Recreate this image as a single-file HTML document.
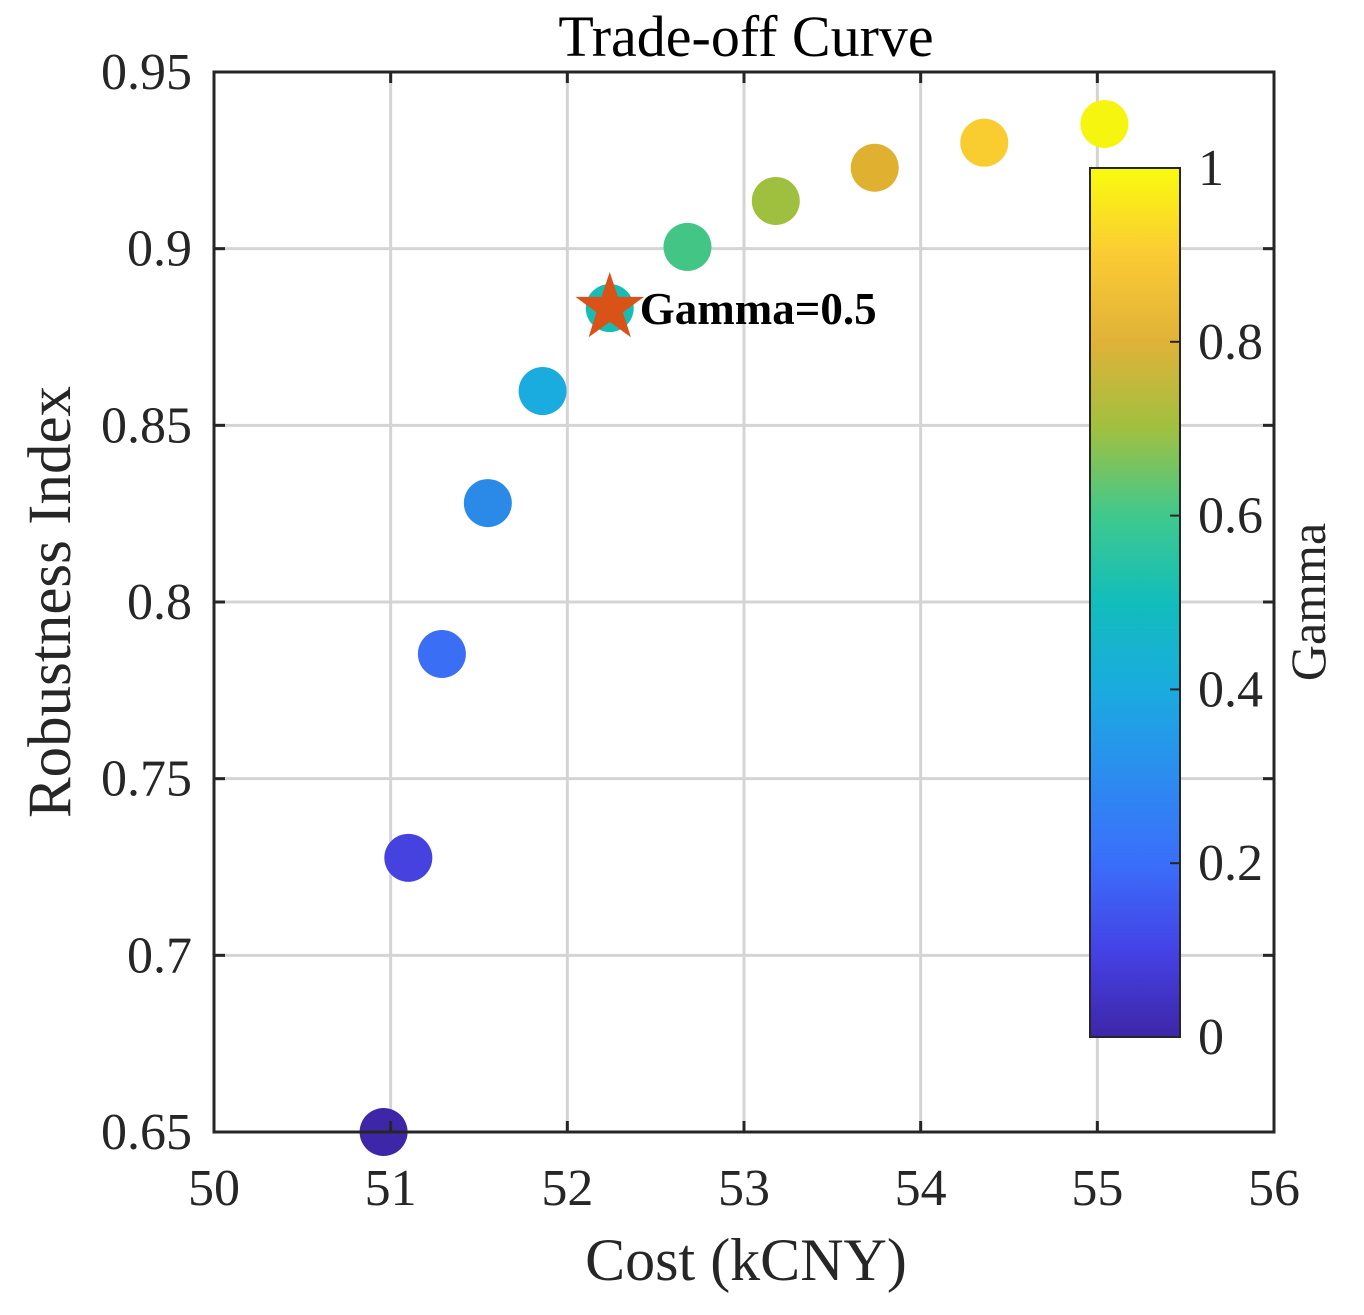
<!DOCTYPE html>
<html><head><meta charset="utf-8"><style>
body{margin:0;background:#fff;}
svg text{font-family:"Liberation Serif",serif;}
</style></head><body>
<svg id="chart" width="1364" height="1310" xmlns="http://www.w3.org/2000/svg">
<defs>
<linearGradient id="parula" x1="0" y1="1" x2="0" y2="0">
<stop offset="0" stop-color="#3e26a8"/><stop offset="0.1" stop-color="#4542e6"/>
<stop offset="0.2" stop-color="#3a6efa"/><stop offset="0.3" stop-color="#2c8cf0"/>
<stop offset="0.4" stop-color="#1aabdf"/><stop offset="0.5" stop-color="#12bdbc"/>
<stop offset="0.6" stop-color="#3fc98d"/><stop offset="0.7" stop-color="#a0c040"/>
<stop offset="0.8" stop-color="#e0b238"/><stop offset="0.9" stop-color="#fbcb34"/>
<stop offset="1" stop-color="#f9fb0e"/></linearGradient>
</defs>
<g id="grid"></g>
<g id="marks"></g>
<rect x="214" y="72" width="1060" height="1060" fill="none" stroke="#262626" stroke-width="3"/>
<g id="ticks"></g>
<text x="746" y="56" font-size="58" text-anchor="middle" fill="#000">Trade-off Curve</text>
<text x="746" y="1280" font-size="60" text-anchor="middle" fill="#262626">Cost (kCNY)</text>
<text transform="translate(70,602) rotate(-90)" font-size="61" text-anchor="middle" fill="#262626">Robustness Index</text>
<rect x="1090" y="168" width="90" height="869" fill="url(#parula)" stroke="#262626" stroke-width="2"/>
<g id="cbticks"></g>
<text transform="translate(1325,602) rotate(-90)" font-size="50" text-anchor="middle" fill="#262626">Gamma</text>
</svg>
<script>
const xTicks=[50,51,52,53,54,55,56];
const yTicks=[0.65,0.7,0.75,0.8,0.85,0.9,0.95];
const yTickLabels=["0.65","0.7","0.75","0.8","0.85","0.9","0.95"];
const costs=[50.96,51.10,51.29,51.55,51.86,52.24,52.68,53.18,53.74,54.36,55.04];
const robustness=[0.650,0.7276,0.7853,0.828,0.8597,0.8832,0.9005,0.9135,0.9229,0.930,0.9353];
const gammas=[0,0.1,0.2,0.3,0.4,0.5,0.6,0.7,0.8,0.9,1.0];
const colors=["#3e26a8","#4542e0","#3a6ef5","#2b8ae8","#1aabdf","#17bdb4","#43c586","#9fc03e","#e0b030","#f9cd30","#f5f510"];
const cbTicks=[0,0.2,0.4,0.6,0.8,1];
const highlightGamma=0.5;
const NS="http://www.w3.org/2000/svg";
const X=v=>214+(v-50)/6*1060, Y=v=>1132-(v-0.65)/0.3*1060, CB=v=>1037-v*869;
function mk(t,a,p){const e=document.createElementNS(NS,t);for(const k in a)e.setAttribute(k,a[k]);p.appendChild(e);return e;}
const g=document.getElementById('grid'),tk=document.getElementById('ticks'),m=document.getElementById('marks'),cb=document.getElementById('cbticks');
xTicks.forEach(v=>{const x=X(v);
 const l=mk('line',{x1:x,x2:x,y1:72,y2:1132,stroke:'#d4d4d4','stroke-width':3},g);
 
 mk('line',{x1:x,x2:x,y1:1132,y2:1121,stroke:'#262626','stroke-width':3},tk);
 mk('line',{x1:x,x2:x,y1:72,y2:83,stroke:'#262626','stroke-width':3},tk);
 const t=mk('text',{x:x,y:1205,'font-size':52,'text-anchor':'middle',fill:'#262626'},tk);t.textContent=v;
 });
yTicks.forEach((v,i)=>{const y=Y(v);
 const l=mk('line',{x1:214,x2:1274,y1:y,y2:y,stroke:'#d4d4d4','stroke-width':3},g);
 
 mk('line',{x1:214,x2:225,y1:y,y2:y,stroke:'#262626','stroke-width':3},tk);
 mk('line',{x1:1263,x2:1274,y1:y,y2:y,stroke:'#262626','stroke-width':3},tk);
 const t=mk('text',{x:192,y:y+17,'font-size':52,'text-anchor':'end',fill:'#262626'},tk);t.textContent=yTickLabels[i];
 });
costs.forEach((c,i)=>{const cx=X(c),cy=Y(robustness[i]);
 const p=mk('circle',{cx:cx,cy:cy,r:24,fill:colors[i]},m);
 
 if(gammas[i]===highlightGamma){
  const R=36,r=14,pts=[];for(let k=0;k<10;k++){const a=-Math.PI/2+k*Math.PI/5,rr=k%2?r:R;pts.push((cx+rr*Math.cos(a)).toFixed(1)+','+(cy+rr*Math.sin(a)).toFixed(1));}
  const s=mk('polygon',{points:pts.join(' '),fill:'#d95319'},m);
  
  const t=mk('text',{x:cx+30,y:cy+16,'font-size':45,'font-weight':'bold',fill:'#000'},m);t.textContent='Gamma='+gammas[i];
  }});
cbTicks.forEach(v=>{const y=CB(v);
 mk('line',{x1:1170,x2:1180,y1:y,y2:y,stroke:'#262626','stroke-width':2},cb);
 const t=mk('text',{x:1198,y:y+17,'font-size':52,fill:'#262626'},cb);t.textContent=v;
 });
</script>
</body></html>
